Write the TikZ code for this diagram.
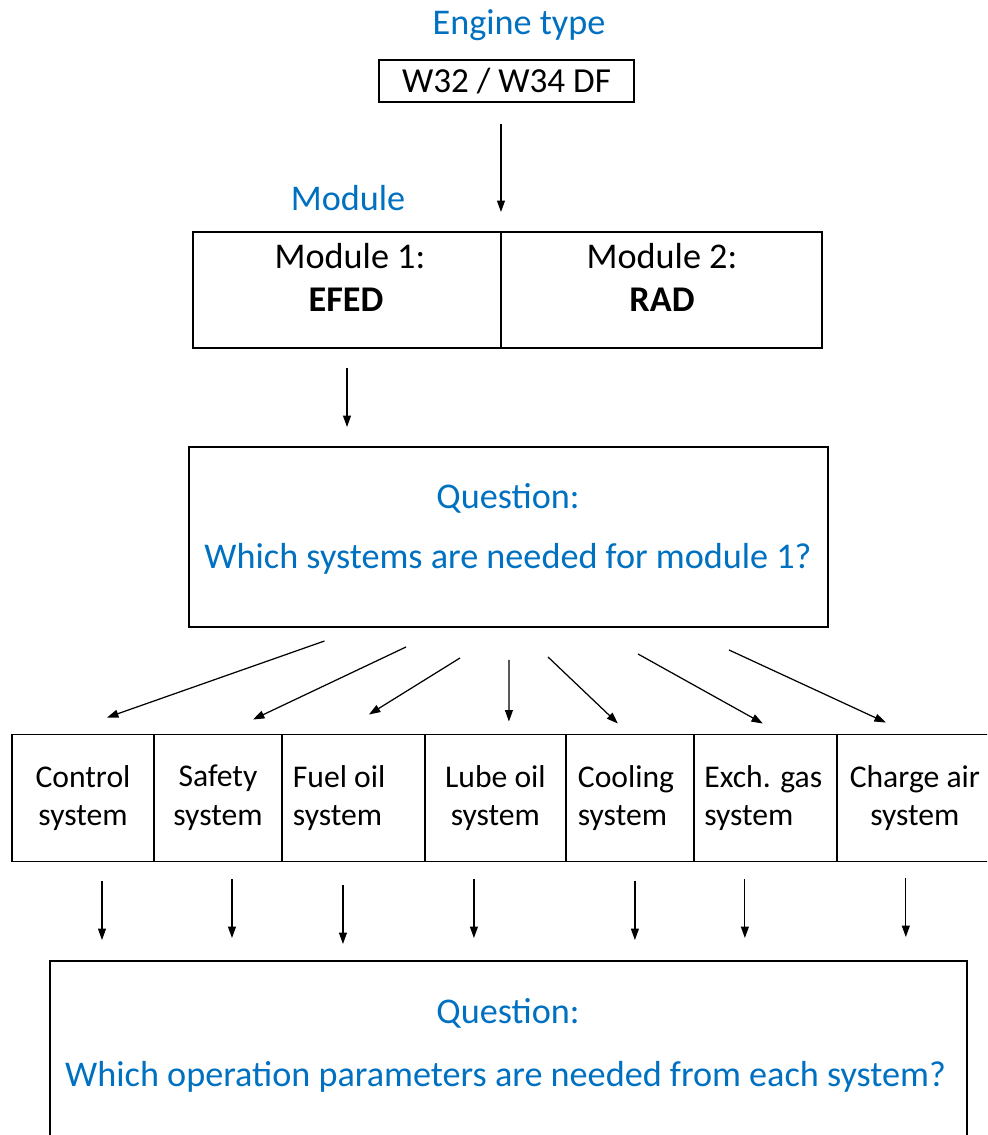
\documentclass[tikz,border=0pt]{standalone}
\usepackage{fontspec}
\setmainfont{Carlito}
\usepackage{tikz}
\usetikzlibrary{arrows.meta, positioning}
\definecolor{qblue}{RGB}{0,112,192}

\begin{document}
\begin{tikzpicture}[x=0.02cm, y=-0.02cm, >={Triangle[length=6.5pt, width=4.5pt]},
    box/.style={rectangle, draw, line width=0.8pt, outer sep=0pt, inner sep=0pt},
    cell/.style={box, minimum height=2.54cm, font=\fontsize{18}{22}\selectfont, align=center},
    head/.style={anchor=base, text=qblue, font=\fontsize{20.6}{24}\selectfont, inner sep=0pt},
    txt/.style={anchor=base, font=\fontsize{20.6}{24}\selectfont, inner sep=0pt},
    link/.style={->, line width=0.7pt}]
    \useasboundingbox (0,0) rectangle (987,1135);
    \clip (0,0) rectangle (987,1135);
    \node[head] (enghd) at (519,35) {Engine type};
    \node[box, minimum width=5.1cm, minimum height=0.84cm, font=\fontsize{20}{24}\selectfont] (eng) at (506.5,81) {W32 / W34 DF};
    \node[head] (modhd) at (348,211) {Module};
    \node[box, minimum width=6.16cm, minimum height=2.32cm] (mod1) at (347,290) {};
    \node[box, minimum width=6.42cm, minimum height=2.32cm, right=0cm of mod1] (mod2) {};
    \node[txt] (mod1a) at (350,268) {Module 1:};
    \node[txt] (mod1b) at (346,311) {\textbf{EFED}};
    \node[txt] (mod2a) at (662,268) {Module 2:};
    \node[txt] (mod2b) at (662,311) {\textbf{RAD}};
    \node[box, minimum width=12.78cm, minimum height=3.6cm] (q1) at (508.5,537) {};
    \node[head] (q1a) at (508,508) {Question:};
    \node[head] (q1b) at (508,568) {Which systems are needed for module 1?};
    \node[cell, minimum width=2.84cm] (sys1) at (83,798) {Control\\system};
    \node[cell, minimum width=2.56cm, right=0cm of sys1] (sys2) {Safety\\system};
    \node[cell, minimum width=2.86cm, right=0cm of sys2, align=flush left, text width=2.42cm] (sys3) {Fuel oil\\system};
    \node[cell, minimum width=2.82cm, right=0cm of sys3] (sys4) {Lube oil\\system};
    \node[cell, minimum width=2.56cm, right=0cm of sys4, align=flush left, text width=2.08cm] (sys5) {Cooling\\system};
    \node[cell, minimum width=2.86cm, right=0cm of sys5, align=flush left, text width=2.44cm] (sys6) {Exch. gas\\system};
    \node[cell, minimum width=3.12cm, right=0cm of sys6] (sys7) {Charge air\\system};
    \node[box, minimum width=18.34cm, minimum height=4.78cm] (q2) at (508.5,1080.5) {};
    \node[head] (q2a) at (508,1023) {Question:};
    \node[head] (q2b) at (505.5,1086) {Which operation parameters are needed from each system?};
    \draw[link, shorten <=0.44cm, shorten >=0.4cm] (eng.south -| mod1.north east) -- (mod1.north east);
    \draw[link, shorten <=0.4cm, shorten >=0.4cm] (mod1.south) -- (mod1.south |- q1.north);
    \draw[link] ([shift={(-184,14)}]q1.south) -- ([shift={(24,-17)}]sys1.north);
    \draw[link] ([shift={(-102.5,20)}]q1.south) -- ([shift={(35,-15)}]sys2.north);
    \draw[link] ([shift={(-48.5,31)}]q1.south) -- ([shift={(15.5,-20)}]sys3.north);
    \draw[link] ([shift={(0.5,33)}]q1.south) -- ([shift={(13.5,-13)}]sys4.north);
    \draw[link] ([shift={(39.5,30)}]q1.south) -- ([shift={(-12,-11)}]sys5.north);
    \draw[link] ([shift={(129.5,27)}]q1.south) -- ([shift={(-2.5,-11)}]sys6.north);
    \draw[link] ([shift={(220.5,23)}]q1.south) -- ([shift={(-29,-12)}]sys7.north);
    \draw[link, shorten <=0.4cm, shorten >=0.42cm] ([shift={(19,0)}]sys1.south) -- ([shift={(19,0)}]sys1.south |- q2.north);
    \draw[link, shorten <=0.36cm, shorten >=0.46cm] ([shift={(14,0)}]sys2.south) -- ([shift={(14,0)}]sys2.south |- q2.north);
    \draw[link, shorten <=0.48cm, shorten >=0.34cm] ([shift={(-10.5,0)}]sys3.south) -- ([shift={(-10.5,0)}]sys3.south |- q2.north);
    \draw[link, shorten <=0.36cm, shorten >=0.46cm] ([shift={(-21.5,0)}]sys4.south) -- ([shift={(-21.5,0)}]sys4.south |- q2.north);
    \draw[link, shorten <=0.4cm, shorten >=0.42cm] ([shift={(5,0)}]sys5.south) -- ([shift={(5,0)}]sys5.south |- q2.north);
    \draw[link, shorten <=0.36cm, shorten >=0.46cm] ([shift={(-20.5,0)}]sys6.south) -- ([shift={(-20.5,0)}]sys6.south |- q2.north);
    \draw[link, shorten <=0.34cm, shorten >=0.48cm] ([shift={(-9,0)}]sys7.south) -- ([shift={(-9,0)}]sys7.south |- q2.north);
\end{tikzpicture}
\end{document}
